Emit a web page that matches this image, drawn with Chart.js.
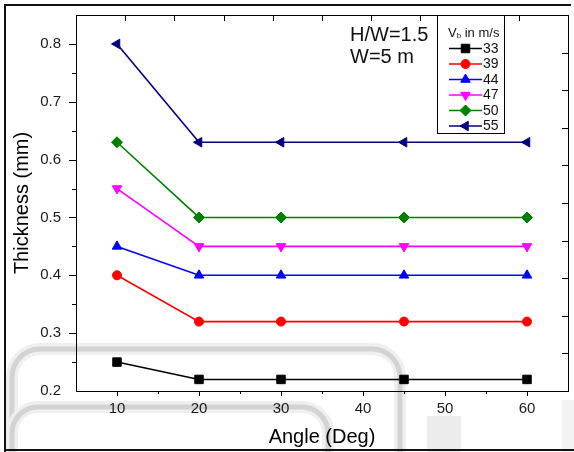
<!DOCTYPE html>
<html>
<head>
<meta charset="utf-8">
<script src="https://cdn.jsdelivr.net/npm/chart.js@4/dist/chart.umd.min.js"></script>
<style>
  html, body { margin: 0; padding: 0; background: #fff; }
  #wrap { width: 574px; height: 452px; }
</style>
</head>
<body>
<div id="wrap"><canvas id="c" width="574" height="452"></canvas></div>
<script>
// Coating thickness vs. inclination angle for several impact velocities
const angles = [10, 20, 30, 45, 60];
const thick33 = [0.25, 0.22, 0.22, 0.22, 0.22];
const thick39 = [0.40, 0.32, 0.32, 0.32, 0.32];
const thick44 = [0.45, 0.40, 0.40, 0.40, 0.40];
const thick47 = [0.55, 0.45, 0.45, 0.45, 0.45];
const thick50 = [0.63, 0.50, 0.50, 0.50, 0.50];
const thick55 = [0.80, 0.63, 0.63, 0.63, 0.63];
const speeds = ['33', '39', '44', '47', '50', '55'];
const xTickValues = [10, 20, 30, 40, 50, 60];
const yTickValues = [0.2, 0.3, 0.4, 0.5, 0.6, 0.7, 0.8];
const notes = ['H/W=1.5', 'W=5 m'];

const FONT = "'Liberation Sans', Arial, sans-serif";

const seriesValues = [thick33, thick39, thick44, thick47, thick50, thick55];
const seriesStyle = [
  { color: '#000000', point: 'rect', rot: 0, r: 6 },
  { color: '#ff0000', point: 'circle', rot: 0, r: 4.5 },
  { color: '#0000ff', point: 'triangle', rot: 0, r: 5.5 },
  { color: '#ff00ff', point: 'triangle', rot: 180, r: 5.5 },
  { color: '#008000', point: 'rectRot', rot: 0, r: 5.5 },
  { color: '#000080', point: 'triangle', rot: 270, r: 5.5 }
];

const datasets = seriesValues.map((vals, i) => ({
  label: speeds[i],
  data: angles.map((a, j) => ({ x: a, y: vals[j] })),
  borderColor: seriesStyle[i].color,
  backgroundColor: seriesStyle[i].color,
  pointBackgroundColor: seriesStyle[i].color,
  pointBorderColor: seriesStyle[i].color,
  pointStyle: seriesStyle[i].point,
  pointRotation: seriesStyle[i].rot,
  pointRadius: seriesStyle[i].r,
  pointHoverRadius: seriesStyle[i].r,
  pointBorderWidth: 1,
  borderWidth: 1.6,
  tension: 0,
  fill: false,
  clip: false
}));

// plot frame in canvas pixels
const PLOT = { left: 76, top: 15, right: 568, bottom: 391 };

function drawMarker(ctx, style, x, y) {
  Chart.helpers.drawPoint(ctx, {
    pointStyle: style.point, rotation: style.rot, radius: style.r, borderWidth: 1
  }, x, y);
}

// light grey rounded outlines in the lower part of the page
function drawBackdrop(ctx) {
  ctx.save();
  ctx.lineJoin = 'round';
  const shapes = [
    { l: 12, t: 349, r: 400, rad: 28 },
    { l: 12, t: 407, r: 328, rad: 26 }
  ];
  for (const s of shapes) {
    for (const pass of [{ w: 12, c: '#efefef' }, { w: 5, c: '#d3d3d3' }]) {
      ctx.beginPath();
      ctx.moveTo(s.l, 452);
      ctx.lineTo(s.l, s.t + s.rad);
      ctx.arcTo(s.l, s.t, s.l + s.rad, s.t, s.rad);
      ctx.lineTo(s.r - s.rad, s.t);
      ctx.arcTo(s.r, s.t, s.r, s.t + s.rad, s.rad);
      ctx.lineTo(s.r, 452);
      ctx.lineWidth = pass.w;
      ctx.strokeStyle = pass.c;
      ctx.stroke();
    }
  }
  ctx.fillStyle = '#ececec';
  ctx.fillRect(427, 416, 34, 36);
  ctx.fillStyle = '#f3f3f3';
  ctx.fillRect(562, 400, 12, 52);
  ctx.restore();
}

const decor = {
  id: 'decor',
  beforeDraw(chart) {
    const ctx = chart.ctx;
    ctx.save();
    ctx.fillStyle = '#ffffff';
    ctx.fillRect(0, 0, chart.width, chart.height);
    drawBackdrop(ctx);
    // outer frame
    ctx.strokeStyle = '#111';
    ctx.lineWidth = 2;
    ctx.beginPath();
    ctx.moveTo(5, 452);
    ctx.lineTo(5, 5);
    ctx.lineTo(571, 5);
    ctx.moveTo(5, 450);
    ctx.lineTo(574, 450);
    ctx.stroke();
    ctx.restore();
  },
  afterDraw(chart) {
    const ctx = chart.ctx;
    const a = chart.chartArea;
    const xs = chart.scales.x, ys = chart.scales.y;
    ctx.save();
    ctx.strokeStyle = '#000';
    ctx.lineWidth = 1;
    ctx.strokeRect(Math.round(a.left) + 0.5, Math.round(a.top) + 0.5,
      Math.round(a.right - a.left), Math.round(a.bottom - a.top));

    ctx.beginPath();
    // bottom axis ticks (major every 10, minor every 5), outward
    for (let v = 10; v < 65; v += 5) {
      const px = Math.round(xs.getPixelForValue(v)) + 0.5;
      const len = v % 10 === 0 ? 5 : 3;
      ctx.moveTo(px, a.bottom);
      ctx.lineTo(px, a.bottom + len);
    }
    // left axis ticks (major every 0.1, minor every 0.05), outward
    for (let k = 5; k < 17; k++) {
      const py = Math.round(ys.getPixelForValue(k * 0.05)) + 0.5;
      const len = k % 2 === 0 ? 7 : 4;
      ctx.moveTo(a.left, py);
      ctx.lineTo(a.left - len, py);
    }
    // top and right axes: ten even divisions, inward ticks
    for (let i = 1; i < 10; i++) {
      const px = Math.round(a.left + (a.right - a.left) * i / 10) + 0.5;
      ctx.moveTo(px, a.top);
      ctx.lineTo(px, a.top + 6);
      const py = Math.round(a.top + (a.bottom - a.top) * i / 10) + 0.5;
      ctx.moveTo(a.right, py);
      ctx.lineTo(a.right - 6, py);
    }
    ctx.stroke();

    // legend
    const lx0 = 437.5, ly0 = a.top + 0.5, lx1 = 504.5, ly1 = 133.5;
    ctx.fillStyle = '#fff';
    ctx.fillRect(lx0, ly0, lx1 - lx0, ly1 - ly0);
    ctx.strokeRect(lx0, ly0, lx1 - lx0, ly1 - ly0);
    ctx.fillStyle = '#111';
    ctx.textBaseline = 'middle';
    ctx.textAlign = 'left';
    ctx.font = '13px ' + FONT;
    let tx = 448;
    ctx.fillText('V', tx, 33);
    tx += ctx.measureText('V').width;
    ctx.font = '8px ' + FONT;
    ctx.fillText('b', tx, 36);
    tx += ctx.measureText('b').width;
    ctx.font = '13px ' + FONT;
    ctx.fillText(' in m/s', tx, 33);

    chart.data.datasets.forEach((ds, i) => {
      const y = 48.5 + i * 15.5;
      ctx.strokeStyle = ds.borderColor;
      ctx.lineWidth = 1.6;
      ctx.beginPath();
      ctx.moveTo(449, y);
      ctx.lineTo(482, y);
      ctx.stroke();
      ctx.fillStyle = ds.borderColor;
      ctx.strokeStyle = ds.borderColor;
      ctx.lineWidth = 1;
      drawMarker(ctx, seriesStyle[i], 465.5, y);
      ctx.fillStyle = '#111';
      ctx.font = '14px ' + FONT;
      ctx.fillText(ds.label, 483, y + 0.5);
    });

    // plot notes
    ctx.fillStyle = '#111';
    ctx.font = '20px ' + FONT;
    ctx.fillText(notes[0], 350, 35);
    ctx.fillText(notes[1], 350, 57);
    ctx.restore();
  }
};

new Chart(document.getElementById('c'), {
  type: 'line',
  data: { datasets },
  plugins: [decor],
  options: {
    responsive: false,
    devicePixelRatio: 1,
    animation: false,
    events: [],
    layout: { autoPadding: false, padding: { left: 0, top: PLOT.top, right: 574 - PLOT.right, bottom: 0 } },
    plugins: { legend: { display: false }, tooltip: { enabled: false } },
    scales: {
      x: {
        type: 'linear', position: 'bottom', min: 5, max: 65,
        afterBuildTicks: s => { s.ticks = xTickValues.map(v => ({ value: v })); },
        afterFit: s => { s.height = 452 - PLOT.bottom; s.paddingLeft = 0; s.paddingRight = 0; },
        grid: { display: false, drawTicks: false },
        border: { display: false },
        ticks: {
          padding: 9, autoSkip: false, maxRotation: 0,
          color: '#1a1a1a', font: { family: FONT, size: 15 },
          callback: v => String(v)
        },
        title: {
          display: true, text: 'Angle (Deg)', color: '#000',
          font: { family: FONT, size: 20 }, padding: { top: 0, bottom: 3 }
        }
      },
      y: {
        type: 'linear', position: 'left', min: 0.2, max: 0.85,
        afterBuildTicks: s => { s.ticks = yTickValues.map(v => ({ value: v })); },
        afterFit: s => { s.width = PLOT.left; s.paddingTop = 0; s.paddingBottom = 0; },
        grid: { display: false, drawTicks: false },
        border: { display: false },
        ticks: {
          padding: 15, color: '#1a1a1a', font: { family: FONT, size: 15 },
          callback: v => Number(v).toFixed(1)
        },
        title: {
          display: true, text: 'Thickness (mm)', color: '#000',
          font: { family: FONT, size: 20 }, padding: { top: 10, bottom: 0 }
        }
      }
    }
  }
});
</script>
</body>
</html>
